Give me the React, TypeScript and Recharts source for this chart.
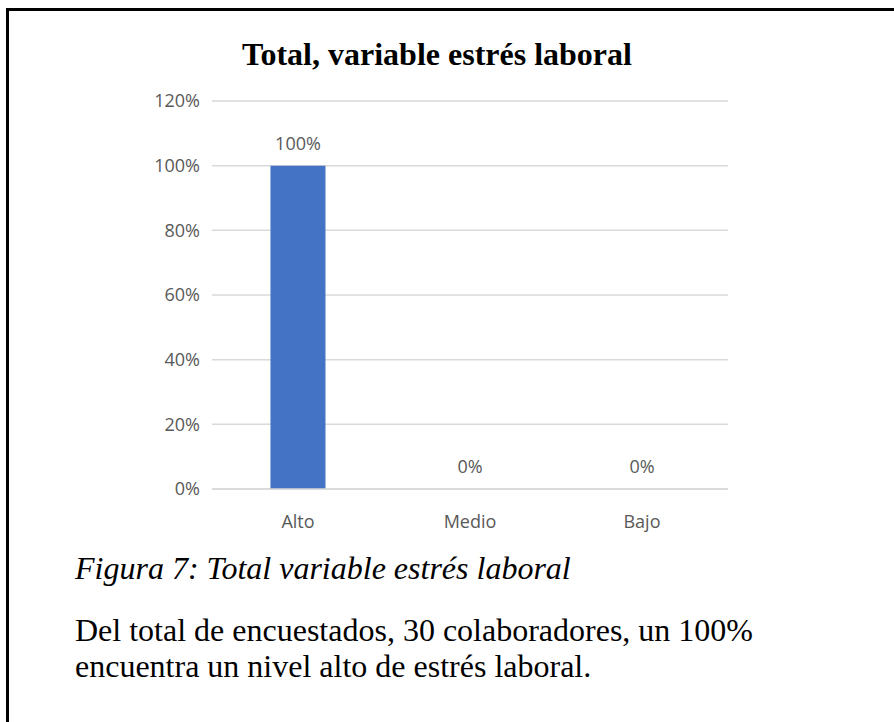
import { Bar, CartesianGrid, ComposedChart, LabelList, Line, XAxis, YAxis } from 'recharts';

const categories = ['Alto', 'Medio', 'Bajo'];
const shares = [1, 0, 0];
const yTicks = [0, 0.2, 0.4, 0.6, 0.8, 1, 1.2];

const data = categories.map((c, i) => ({ c, v: shares[i] }));

const pct = (v: number) => `${Math.round(v * 100)}%`;
const TICK = { fill: '#595959', fontSize: 18, fontFamily: '"Open Sans", sans-serif' };
const SERIF = '"Liberation Serif", "Times New Roman", serif';

export default function App() {
  return (
    <div style={{ position: 'fixed', left: 0, top: 0, width: 894, height: 722, background: '#fff', overflow: 'hidden' }}>
      {/* page frame: only top and left edges fall inside the crop */}
      <div style={{ position: 'absolute', left: 6, top: 8, width: 1000, height: 1000, borderLeft: '3px solid #000', borderTop: '3px solid #000' }} />
      <div
        style={{
          position: 'absolute', left: -10, width: 894, top: 36, textAlign: 'center',
          fontFamily: SERIF, fontWeight: 700, fontSize: 32, color: '#000', lineHeight: '37px', whiteSpace: 'nowrap',
        }}
      >
        Total, variable estrés laboral
      </div>
      <div style={{ position: 'absolute', left: 0, top: 0 }}>
        <ComposedChart width={894} height={560} data={data} margin={{ top: 101, right: 166, bottom: 41, left: 152 }} barCategoryGap="34%">
          <CartesianGrid vertical={false} stroke="#d9d9d9" strokeWidth={1.5} />
          <XAxis dataKey="c" axisLine={{ stroke: '#d9d9d9', strokeWidth: 1.5 }} tickLine={false} tick={TICK} dy={18} height={30} />
          <YAxis
            domain={[0, 1.2]}
            ticks={yTicks}
            tickFormatter={pct}
            axisLine={false}
            tickLine={false}
            tick={TICK}
            width={60}
            dx={-4}
          />
          <Bar dataKey="v" fill="#4472C4" isAnimationActive={false} />
          <Line dataKey="v" stroke="none" dot={false} activeDot={false} legendType="none" isAnimationActive={false}>
            <LabelList dataKey="v" position="top" offset={16} formatter={(v: any) => pct(Number(v))} style={TICK} />
          </Line>
        </ComposedChart>
      </div>
      <div style={{ position: 'absolute', left: 75, top: 550, fontFamily: SERIF, fontStyle: 'italic', fontSize: 32, lineHeight: '37px', color: '#000', whiteSpace: 'nowrap' }}>
        Figura 7: Total variable estrés laboral
      </div>
      <div style={{ position: 'absolute', left: 75, top: 612, fontFamily: SERIF, fontSize: 32, lineHeight: '36px', color: '#000', whiteSpace: 'nowrap' }}>
        Del total de encuestados, 30 colaboradores, un 100%
        <br />
        encuentra un nivel alto de estrés laboral.
      </div>
    </div>
  );
}
